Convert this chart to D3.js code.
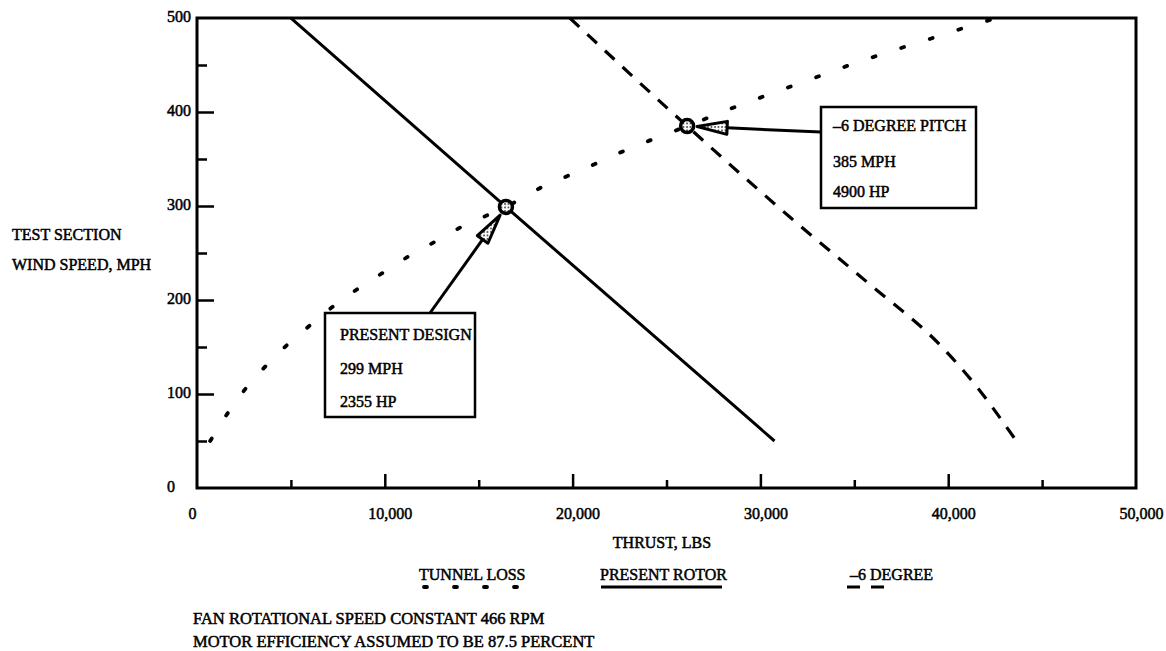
<!DOCTYPE html>
<html>
<head>
<meta charset="utf-8">
<script src="https://cdn.jsdelivr.net/npm/d3@7"></script>
<style>
  body { margin: 0; background: #fff; }
  svg text {
    font-family: "Liberation Serif", "Times New Roman", serif;
    font-size: 16px;
    fill: #000;
    stroke: #000;
    stroke-width: 0.5px;
  }
  svg text.note { font-size: 16.5px; }
</style>
</head>
<body>
<svg id="chart" width="1166" height="651"></svg>
<script>
// Wind tunnel fan: thrust (lbs) against test-section wind speed (mph)

// Tunnel loss curve
const tunnelLossThrust = [700, 1650, 2600, 3670, 4840, 6015, 7240, 8570, 9900, 11230, 12670, 14100, 16450, 18360, 19850, 21340, 22780, 24270, 26100, 28740, 30230, 31720, 33260, 34750, 36240, 37790, 39380, 40930, 42580];
const tunnelLossSpeed  = [50, 80, 106, 130, 153, 173, 193, 212, 229, 246, 262, 278, 299, 320, 333, 346, 359, 371, 385, 406, 417, 428, 439, 450, 460, 470, 480, 490, 500];

// Present rotor
const presentRotorThrust = [5000, 16450, 30750];
const presentRotorSpeed  = [500, 299, 50];

// -6 degree pitch rotor
const minus6Thrust = [19850, 26100, 31580, 35680, 39670, 41430, 43560];
const minus6Speed  = [500, 385, 288, 219, 150, 110, 52];

// Axis ticks
const thrustLabels = [0, 10000, 20000, 30000, 40000, 50000];
const thrustMajor  = [10000, 20000, 30000, 40000];
const thrustMinor  = [5000, 15000, 25000, 35000, 45000];
const speedLabels  = [0, 100, 200, 300, 400, 500];
const speedMajor   = [100, 200, 300, 400];
const speedMinor   = [50, 150, 250, 350, 450];

// Operating points
const designPoints = [
  { thrust: 16450, speed: 299, lines: ["PRESENT DESIGN", "299 MPH", "2355 HP"] },
  { thrust: 26100, speed: 385, lines: ["\u20136 DEGREE PITCH", "385 MPH", "4900 HP"] }
];

const legendItems = ["TUNNEL LOSS", "PRESENT ROTOR", "\u20136 DEGREE"];
const notes = ["FAN ROTATIONAL SPEED CONSTANT 466 RPM", "MOTOR EFFICIENCY ASSUMED TO BE 87.5 PERCENT"];

const svg = d3.select("#chart");
const x = d3.scaleLinear().domain([0, 50000]).range([197, 1136]);
const y = d3.scaleLinear().domain([0, 500]).range([488, 18]);

const styles = {
  tunnel: { width: 3.8, dash: "3 27", cap: "round" },
  rotor:  { width: 3,   dash: null,   cap: "butt" },
  minus6: { width: 3.2, dash: "13 11", cap: "butt" }
};

function curve(th, sp, st) {
  const pts = th.map((t, i) => [t, sp[i]]);
  const line = d3.line().x(d => x(d[0])).y(d => y(d[1])).curve(d3.curveMonotoneX);
  svg.append("path")
    .attr("d", line(pts))
    .attr("fill", "none")
    .attr("stroke", "#000")
    .attr("stroke-width", st.width)
    .attr("stroke-linecap", st.cap)
    .attr("stroke-dasharray", st.dash);
}
curve(tunnelLossThrust, tunnelLossSpeed, styles.tunnel);
curve(presentRotorThrust, presentRotorSpeed, styles.rotor);
curve(minus6Thrust, minus6Speed, styles.minus6);

// Frame
svg.append("rect")
  .attr("x", x(0)).attr("y", y(500))
  .attr("width", x(50000) - x(0)).attr("height", y(0) - y(500))
  .attr("fill", "none").attr("stroke", "#000").attr("stroke-width", 3);

// Inward ticks
function ticks(axis, vals, size, transform) {
  const g = svg.append("g").attr("transform", transform)
    .call(axis.tickValues(vals).tickSize(size).tickFormat(""));
  g.select(".domain").remove();
  g.selectAll("line").attr("stroke", "#000").attr("stroke-width", 2.5);
}
ticks(d3.axisBottom(x), thrustMajor, -14, `translate(0,${y(0)})`);
ticks(d3.axisBottom(x), thrustMinor, -8, `translate(0,${y(0)})`);
ticks(d3.axisLeft(y), speedMajor, -17, `translate(${x(0)},0)`);
ticks(d3.axisLeft(y), speedMinor, -10, `translate(${x(0)},0)`);

// Tick labels
const fmt = d3.format(",");
const xl = svg.append("g").attr("transform", `translate(0,${y(0)})`)
  .call(d3.axisBottom(x).tickValues(thrustLabels).tickSize(0).tickPadding(20).tickFormat(fmt));
xl.select(".domain").remove();
xl.selectAll("text").attr("dx", d => d === 0 ? -5 : 5).attr("font-size", null).attr("font-family", null);

const yl = svg.append("g").attr("transform", `translate(${x(0)},0)`)
  .call(d3.axisLeft(y).tickValues(speedLabels).tickSize(0).tickFormat(d3.format("d")));
yl.select(".domain").remove();
yl.selectAll("text").attr("text-anchor", "start").attr("x", -30).attr("dy", "0.2em")
  .attr("font-size", null).attr("font-family", null);

// Axis titles
svg.append("text").attr("x", 12).attr("y", 240).text("TEST SECTION");
svg.append("text").attr("x", 12).attr("y", 270).text("WIND SPEED, MPH");
svg.append("text").attr("x", 662).attr("y", 548).attr("text-anchor", "middle").text("THRUST, LBS");

// Stippled fill for markers and arrowheads
const defs = svg.append("defs");
const pat = defs.append("pattern").attr("id", "stipple").attr("patternUnits", "userSpaceOnUse")
  .attr("width", 3.5).attr("height", 3.5);
pat.append("rect").attr("width", 3.5).attr("height", 3.5).attr("fill", "#fff");
pat.append("circle").attr("cx", 1).attr("cy", 1).attr("r", 0.9).attr("fill", "#333");

// Callout boxes and arrows
const boxes = [
  { x: 325, y: 313, w: 150, h: 104, ax: 430, ay: 313, tx: 340, base: [340, 374, 407] },
  { x: 821, y: 107, w: 155, h: 101, ax: 821, ay: 132, tx: 833, base: [131, 167, 197] }
];
designPoints.forEach((p, i) => {
  const b = boxes[i];
  const px = x(p.thrust), py = y(p.speed);
  const dx = px - b.ax, dy = py - b.ay, len = Math.hypot(dx, dy);
  const ux = dx / len, uy = dy / len;
  const tip = [b.ax + ux * (len - 10), b.ay + uy * (len - 10)];
  const headLen = 30, headW = 6.5;
  const base = [tip[0] - ux * headLen, tip[1] - uy * headLen];
  svg.append("line").attr("x1", b.ax).attr("y1", b.ay).attr("x2", base[0]).attr("y2", base[1])
    .attr("stroke", "#000").attr("stroke-width", 3);
  svg.append("path")
    .attr("d", `M${tip[0]},${tip[1]}L${base[0] - uy * headW},${base[1] + ux * headW}L${base[0] + uy * headW},${base[1] - ux * headW}Z`)
    .attr("fill", "url(#stipple)").attr("stroke", "#000").attr("stroke-width", 3).attr("stroke-linejoin", "round");
  // marker
  svg.append("circle").attr("cx", px).attr("cy", py).attr("r", 6.5)
    .attr("fill", "url(#stipple)").attr("stroke", "#000").attr("stroke-width", 3.5);
  // box
  svg.append("rect").attr("x", b.x).attr("y", b.y).attr("width", b.w).attr("height", b.h)
    .attr("fill", "#fff").attr("stroke", "#000").attr("stroke-width", 2.5);
  p.lines.forEach((t, j) => {
    svg.append("text").attr("x", b.tx).attr("y", b.base[j]).text(t);
  });
});

// Legend
const legendX = [419, 600, 850];
const legendKeys = ["tunnel", "rotor", "minus6"];
const sampleSpan = [[424, 520], [601, 722], [847, 884]];
legendItems.forEach((t, i) => {
  svg.append("text").attr("x", legendX[i]).attr("y", 580).text(t);
  const st = styles[legendKeys[i]];
  svg.append("line")
    .attr("x1", sampleSpan[i][0]).attr("x2", sampleSpan[i][1]).attr("y1", 587).attr("y2", 587)
    .attr("stroke", "#000").attr("stroke-width", st.width)
    .attr("stroke-linecap", st.cap)
    .attr("stroke-dasharray", st.dash);
});

// Notes
notes.forEach((t, i) => {
  svg.append("text").attr("class", "note").attr("x", 193).attr("y", 624 + i * 23).text(t);
});
</script>
</body>
</html>
